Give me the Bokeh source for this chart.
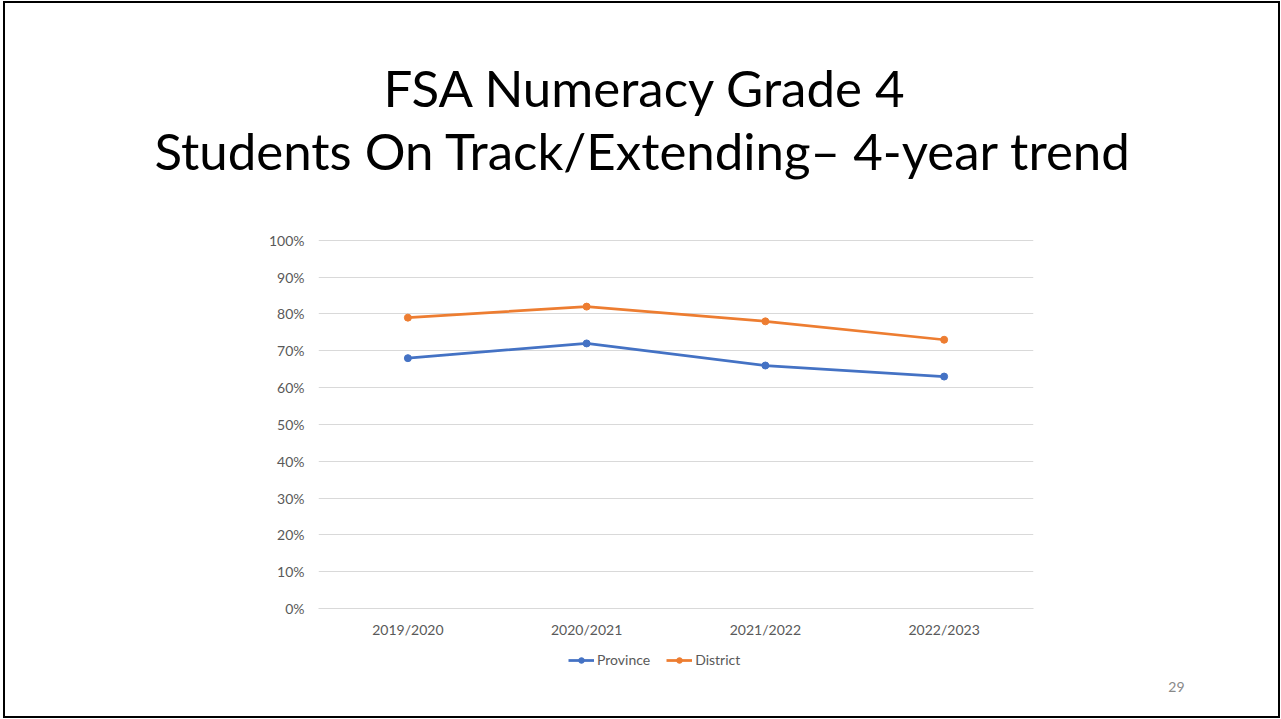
from bokeh.plotting import figure
from bokeh.layouts import column
from bokeh.models import (ColumnDataSource, Legend, LegendItem, Range1d, Title,
                          FixedTicker, PrintfTickFormatter)
from bokeh.embed import file_html
from bokeh.resources import INLINE

# ---- data ----
years = ["2019/2020", "2020/2021", "2021/2022", "2022/2023"]
province = [68, 72, 66, 63]
district = [79, 82, 78, 73]
y_ticks = [0, 10, 20, 30, 40, 50, 60, 70, 80, 90, 100]
title_line1 = "FSA Numeracy Grade 4"
title_line2 = "Students On Track/Extending\u2013 4-year trend"
page_number = "29"
series_names = ["Province", "District"]

BLUE = "#4472C4"
ORANGE = "#ED7D31"
GRID = "#d9d9d9"
TICK = "#595959"
W = 1273

src = ColumnDataSource(dict(year=years, province=province, district=district))

# ---- chart ----
p = figure(x_range=years, y_range=Range1d(0, 100.5),
           frame_width=715, frame_height=370,
           output_backend="svg", toolbar_location=None,
           min_border_left=313, min_border_right=245,
           min_border_top=235, min_border_bottom=40)
p.outline_line_color = None
p.background_fill_color = "white"
p.border_fill_color = "white"
p.xgrid.grid_line_color = None
p.ygrid.grid_line_color = GRID
p.ygrid.grid_line_width = 1
p.yaxis.ticker = FixedTicker(ticks=y_ticks)
p.yaxis.formatter = PrintfTickFormatter(format="%d%%")
for ax in (p.xaxis, p.yaxis):
    ax.major_tick_line_color = None
    ax.minor_tick_line_color = None
    ax.major_tick_out = 0
    ax.major_tick_in = 0
    ax.major_label_text_font = "Lato"
    ax.major_label_text_font_size = "14px"
    ax.major_label_text_color = TICK
p.yaxis.axis_line_color = None
p.xaxis.axis_line_color = GRID
p.xaxis.major_label_standoff = 12
p.yaxis.major_label_standoff = 14

p.line("year", "province", source=src, color=BLUE, line_width=2.75)
p.scatter("year", "province", source=src, color=BLUE, size=7)
p.line("year", "district", source=src, color=ORANGE, line_width=2.75)
p.scatter("year", "district", source=src, color=ORANGE, size=7)

# heading: spacer (closest to the plot), then line 2, then line 1
p.add_layout(Title(text=" ", text_font_size="1px", standoff=55), "above")
p.add_layout(Title(text=title_line2, align="left", offset=-164, standoff=0,
                   text_font="Lato", text_font_size="51px",
                   text_font_style="normal", text_color="black"), "above")
p.add_layout(Title(text=title_line1, align="left", offset=65, standoff=0,
                   text_font="Lato", text_font_size="51px",
                   text_font_style="normal", text_color="black"), "above")

# ---- legend + page number strip ----
bot = figure(width=W, height=68, output_backend="svg", toolbar_location=None,
             x_range=years, y_range=Range1d(0, 1),
             min_border_left=313, min_border_right=245,
             min_border_top=0, min_border_bottom=40,
             x_axis_location=None, y_axis_location=None)
bot.grid.visible = False
bot.outline_line_color = None
bot.background_fill_color = "white"
bot.border_fill_color = "white"
lr1 = bot.line("year", "province", source=src, color=BLUE, line_width=2.75, visible=False)
ls1 = bot.scatter("year", "province", source=src, color=BLUE, size=7, visible=False)
lr2 = bot.line("year", "district", source=src, color=ORANGE, line_width=2.75, visible=False)
ls2 = bot.scatter("year", "district", source=src, color=ORANGE, size=7, visible=False)
legend = Legend(items=[LegendItem(label=series_names[0], renderers=[lr1, ls1]),
                       LegendItem(label=series_names[1], renderers=[lr2, ls2])],
                orientation="horizontal", location=(250, 8),
                label_text_font="Lato", label_text_font_size="14px",
                label_text_color=TICK, glyph_width=26, glyph_height=14,
                label_standoff=3, spacing=16, padding=4, margin=0,
                border_line_color=None, background_fill_alpha=0,
                inactive_fill_alpha=0)
bot.add_layout(legend)
bot.add_layout(Title(text=page_number, align="right", offset=-151, standoff=6,
                     text_font="Lato", text_font_size="14px",
                     text_font_style="normal", text_color="#898989"), "below")

page = column(p, bot, spacing=0)
page.styles = {"border": "2px solid black", "margin-left": "3px", "margin-top": "1px"}

open("out.html", "w").write(file_html(page, INLINE))
